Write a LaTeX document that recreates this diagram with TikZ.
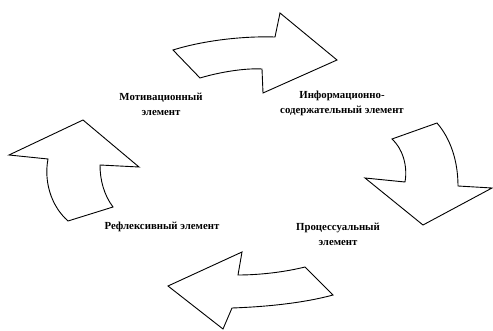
\documentclass[tikz,border=0pt]{standalone}
\usepackage{fontspec}
\setmainfont{Liberation Serif}
\begin{document}
\begin{tikzpicture}[x=1pt,y=-1pt,
  arrowshape/.style={draw=black,line width=0.9pt,line join=miter,fill=white},
  lbl/.style={font=\bfseries\fontsize{10.8}{15}\selectfont,align=center,inner sep=0pt}]
\useasboundingbox (0,0) rectangle (493,331);
% top arrow (to the right)
\draw[arrowshape] (173,50) .. controls (205,40) and (245,36) .. (275,37) -- (280,13) -- (337,60) -- (263,93) -- (262,69) .. controls (245,68) and (220,72) .. (200,78) -- cycle;
% right arrow (downwards)
\draw[arrowshape] (392,139) -- (437,123) .. controls (450,138) and (458,160) .. (458,186) -- (492,188) -- (423,225) -- (365,178) -- (405,182) .. controls (408,165) and (402,148) .. (392,139) -- cycle;
% bottom arrow (to the left)
\draw[arrowshape] (242,252) -- (238,275) .. controls (260,275) and (285,272) .. (305,267) -- (333,295) .. controls (300,304) and (260,307) .. (232,308) -- (223,329) -- (168,286) -- cycle;
% left arrow (upwards)
\draw[arrowshape] (83,120) -- (139,167) -- (100,165) .. controls (100,180) and (104,195) .. (113,207) -- (68,221) .. controls (50,205) and (44,180) .. (48,159) -- (9,155) -- cycle;
% labels
\node[lbl] (mot) at (161,104) {Мотивационный\\элемент};
\node[lbl] (inf) at (342,103) {Информационно-\\содержательный элемент};
\node[lbl] (ref) at (162,227) {Рефлексивный элемент};
\node[lbl] (proc) at (338,234) {Процессуальный\\элемент};
\end{tikzpicture}
\end{document}
